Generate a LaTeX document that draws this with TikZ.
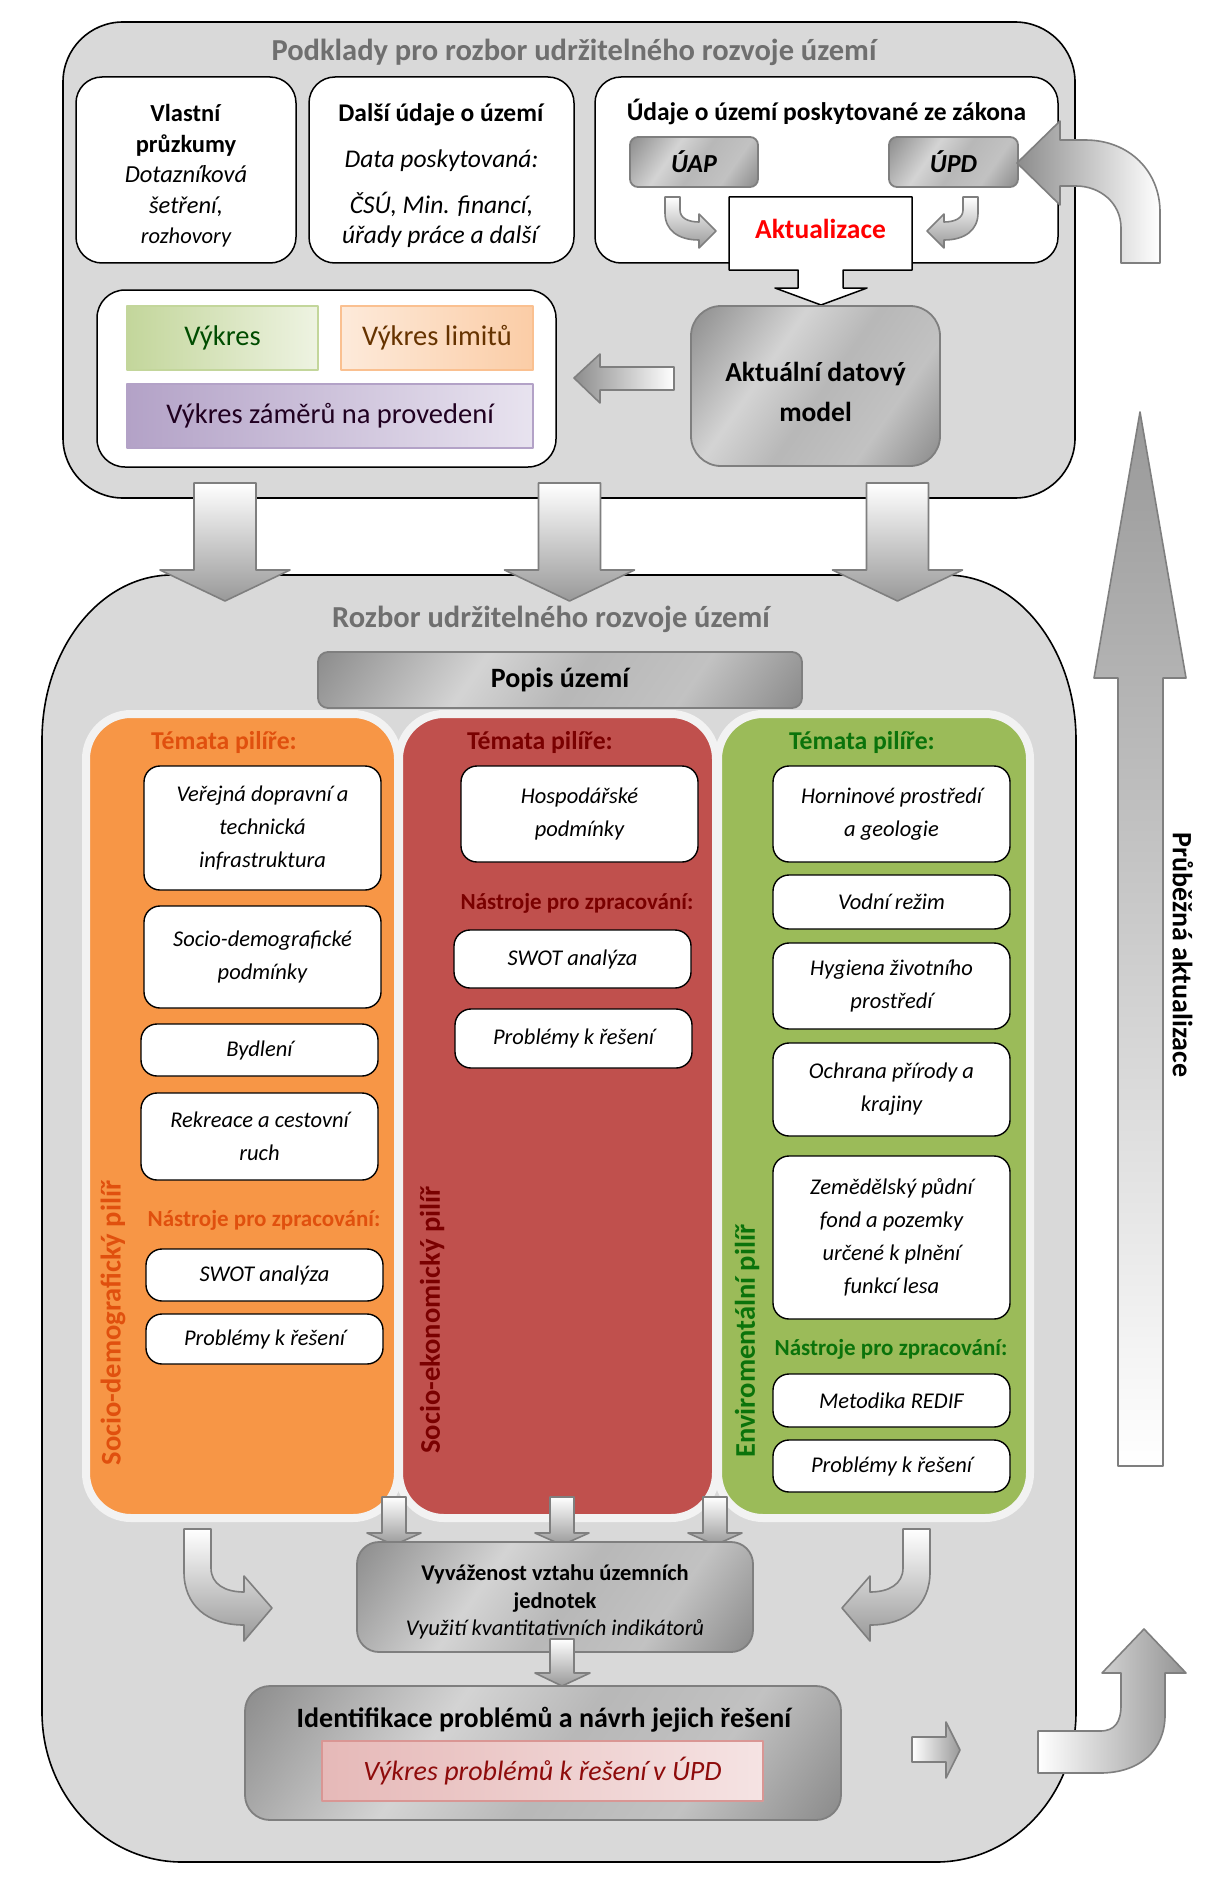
\documentclass[tikz,border=0pt]{standalone}
\usepackage{fontspec}
\setmainfont{Carlito}

\definecolor{mapGray}{HTML}{D9D9D9}
\definecolor{mapLine}{HTML}{7F7F7F}
\definecolor{mapRim}{HTML}{F2F2F2}
\definecolor{mapOrange}{HTML}{F79646}
\definecolor{mapRed}{HTML}{C0504D}
\definecolor{mapGreen}{HTML}{9BBB59}
\definecolor{txtTitle}{HTML}{6F6F6F}
\definecolor{txtOrange}{HTML}{E0500E}
\definecolor{txtRed}{HTML}{7A0000}
\definecolor{txtGreen}{HTML}{0B730B}
\definecolor{txtPink}{HTML}{8E0B0B}
\definecolor{greenA}{HTML}{C3D69B}
\definecolor{greenB}{HTML}{EEF3E2}
\definecolor{orangeA}{HTML}{FAC090}
\definecolor{orangeB}{HTML}{FDEADA}
\definecolor{purpleA}{HTML}{B3A2C7}
\definecolor{purpleB}{HTML}{E8E3EF}
\definecolor{pinkA}{HTML}{E6B9B8}
\definecolor{pinkB}{HTML}{F5E3E3}
\definecolor{pinkLine}{HTML}{D99694}

\pgfdeclarehorizontalshading{metal}{100bp}{color(0bp)=(black!64); color(38bp)=(black!17); color(52bp)=(black!28); color(68bp)=(black!24); color(100bp)=(black!66)}

\tikzset{
  panel/.style={draw=black, line width=1.6pt, fill=mapGray},
  srcbox/.style={draw=black, line width=1.5pt, fill=white, rounded corners=26pt, inner sep=0pt, align=center},
  metalbox/.style={draw=mapLine, line width=1.8pt, shading=metal, shading angle=-35, inner sep=0pt, align=center},
  blockarrow/.style={draw=mapLine, line width=1.6pt, top color=white, bottom color=black!40},
  layerbox/.style={line width=1.5pt, inner sep=0pt, font=\fontsize{28.5}{32}\selectfont},
  pillar/.style={draw=mapRim, line width=8pt, rounded corners=45pt},
  topicbox/.style={draw=black, line width=1.4pt, fill=white, rounded corners=16pt, inner sep=0pt, align=center,
    minimum width=237pt, font=\fontsize{22.5}{33}\selectfont\itshape},
  pillartitle/.style={font=\fontsize{25.7}{29}\selectfont\bfseries},
  tooltitle/.style={font=\fontsize{23}{27}\selectfont\bfseries},
  pillarlabel/.style={rotate=90, font=\fontsize{28.5}{32}\selectfont\bfseries},
  paneltitle/.style={font=\fontsize{30.5}{34}\selectfont\bfseries, text=txtTitle}
}

\begin{document}
\begin{tikzpicture}[x=1pt,y=-1pt,line join=round]
  \useasboundingbox[fill=white] (0,0) rectangle (1224,1894);

  % Průběžná aktualizace
  \draw[blockarrow, top color=black!40, bottom color=white] (1118,1466) -- (1118,678) -- (1094,678) -- (1140,412)
    -- (1186,678) -- (1163,678) -- (1163,1466) -- cycle;
  \node[rotate=-90, font=\fontsize{28}{32}\selectfont\bfseries] (prubezna) at (1183,955) {Průběžná aktualizace};

  % Podklady
  \draw[panel, rounded corners=60pt] (63,22) rectangle (1075,498);
  \node[paneltitle] (podklady) at (574,52) {Podklady pro rozbor udržitelného rozvoje území};

  \node[srcbox, minimum width=220pt, minimum height=186pt] (vlastni) at (186,170) {};
  \node[align=center, font=\fontsize{24.5}{30.5}\selectfont] (vlastnitext) at (186,176)
    {\textbf{Vlastní}\\\textbf{průzkumy}\\\textit{Dotazníková}\\\textit{šetření,}\\{\fontsize{22.5}{29}\selectfont\itshape rozhovory}};
  \node[srcbox, minimum width=265pt, minimum height=186pt] (dalsi) at (441.5,170) {};
  \node[align=center, font=\fontsize{25.5}{29}\selectfont] (dalsitext) at (441.5,176)
    {\textbf{Další údaje o území}\\[17pt]\textit{Data poskytovaná:}\\[17pt]\textit{ČSÚ, Min. financí,}\\[1pt]\textit{úřady práce a další}};
  \node[srcbox, minimum width=463pt, minimum height=186pt] (zakon) at (826.5,170) {};
  \node[font=\fontsize{25.5}{29}\selectfont\bfseries] (zakontitle) at (826.5,112) {Údaje o území poskytované ze zákona};

  \node[metalbox, rounded corners=8pt, minimum width=128pt, minimum height=50pt,
    font=\fontsize{26}{30}\selectfont\bfseries\itshape] (uap) at (694,162) {ÚAP};
  \node[metalbox, rounded corners=8pt, minimum width=129pt, minimum height=50pt,
    font=\fontsize{26}{30}\selectfont\bfseries\itshape] (upd) at (953.5,162) {ÚPD};

  % Aktualizace
  \draw[fill=white, line width=1.5pt] (729,197) -- (912,197) -- (912,270) -- (843,270) -- (843,288) -- (867,288)
    -- (821,305) -- (775,288) -- (798,288) -- (798,270) -- (729,270) -- cycle;
  \node[text=red, font=\fontsize{27.5}{32}\selectfont\bfseries] (aktual) at (820.5,229) {Aktualizace};

  \draw[blockarrow] (665,197) -- (680,197) -- (680,210) .. controls (680,218) and (688,222) .. (699,222) -- (699,214)
    -- (716,231) -- (699,248) -- (699,240) .. controls (678,240) and (665,230) .. (665,213) -- cycle;
  \draw[blockarrow] (978,197) -- (963,197) -- (963,210) .. controls (963,218) and (955,222) .. (944,222) -- (944,214)
    -- (927,231) -- (944,248) -- (944,240) .. controls (965,240) and (978,230) .. (978,213) -- cycle;

  \draw[blockarrow, left color=black!45, right color=white] (1121,263) -- (1121,228) .. controls (1121,203) and (1100,186) .. (1076,186)
    -- (1060,186) -- (1060,205) -- (1017,163) -- (1060,121) -- (1060,140) -- (1085,140)
    .. controls (1130,140) and (1160,172) .. (1160,212) -- (1160,263) -- cycle;

  % Výkresy
  \node[srcbox, rounded corners=28pt, minimum width=459pt, minimum height=177pt] (vykresy) at (326.5,378.5) {};
  \node[layerbox, draw=greenA, left color=greenA, right color=greenB, text=green!30!black,
    minimum width=191pt, minimum height=64pt] (vykres) at (222.5,338) {Výkres};
  \node[layerbox, draw=orangeA, left color=orangeB, right color=orangeA!80, text=orange!40!black,
    minimum width=192pt, minimum height=64pt] (limity) at (437,338) {Výkres limitů};
  \node[layerbox, draw=purpleA, left color=purpleA, right color=purpleB, text=violet!25!black,
    minimum width=406pt, minimum height=64pt] (zamery) at (330,416) {Výkres záměrů na provedení};

  \draw[blockarrow, left color=black!45, right color=white] (674,367) -- (674,390) -- (600,390) -- (600,403)
    -- (574,378) -- (600,354) -- (600,367) -- cycle;

  \node[metalbox, rounded corners=30pt, minimum width=249pt, minimum height=160pt] (model) at (815.5,386) {};
  \node[align=center, font=\fontsize{27.5}{40}\selectfont\bfseries] (modeltext) at (815.5,392) {Aktuální datový\\model};

  % Rozbor
  \draw[panel] (172,575) -- (946,575) arc[start angle=90, end angle=0, x radius=130pt, y radius=165pt]
    -- (1076,1712) arc[start angle=0, end angle=-90, x radius=140pt, y radius=150pt]
    -- (182,1862) arc[start angle=270, end angle=180, x radius=140pt, y radius=150pt]
    -- (42,740) arc[start angle=180, end angle=90, x radius=130pt, y radius=165pt] -- cycle;
  \node[paneltitle] (rozbor) at (551,619) {Rozbor udržitelného rozvoje území};

  \foreach \cx in {225,569.5,897.5}
    \draw[blockarrow] (\cx-31,483) -- (\cx+31,483) -- (\cx+31,570) -- (\cx+65,570) -- (\cx,601)
      -- (\cx-65,570) -- (\cx-31,570) -- cycle;

  \node[metalbox, rounded corners=10pt, minimum width=484pt, minimum height=56pt,
    font=\fontsize{28}{32}\selectfont\bfseries] (popis) at (560,680) {Popis území};

  % Pilíře
  \draw[pillar, fill=mapOrange] (86,714) rectangle (398,1518);
  \draw[pillar, fill=mapRed] (399,714) rectangle (716,1518);
  \draw[pillar, fill=mapGreen] (718,714) rectangle (1030,1518);

  % socio-demografický
  \node[pillartitle, text=txtOrange] (temaO) at (224,742) {Témata pilíře:};
  \node[topicbox, minimum height=124pt] (doprava) at (262.5,828) {Veřejná dopravní a\\technická\\infrastruktura};
  \node[topicbox, minimum height=102pt] (demog) at (262.5,957) {Socio-demografické\\podmínky};
  \node[topicbox, minimum height=52pt] (bydleni) at (259.5,1050) {Bydlení};
  \node[topicbox, minimum height=87pt] (rekreace) at (259.5,1136.5) {Rekreace a cestovní\\ruch};
  \node[tooltitle, text=txtOrange] (nastrojeO) at (264,1220) {Nástroje pro zpracování:};
  \node[topicbox, minimum height=52pt] (swotO) at (264.5,1275) {SWOT analýza};
  \node[topicbox, minimum height=50pt] (problemyO) at (264.5,1339) {Problémy k řešení};
  \node[pillarlabel, text=txtOrange] (pilirO) at (113,1323) {Socio-demografický pilíř};

  % socio-ekonomický
  \node[pillartitle, text=txtRed] (temaR) at (540,742) {Témata pilíře:};
  \node[topicbox, minimum height=96pt] (hosp) at (579.5,814) {Hospodářské\\podmínky};
  \node[tooltitle, text=txtRed] (nastrojeR) at (577,903) {Nástroje pro zpracování:};
  \node[topicbox, minimum height=58pt] (swotR) at (572.5,959) {SWOT analýza};
  \node[topicbox, minimum height=59pt] (problemyR) at (573.5,1038.5) {Problémy k řešení};
  \node[pillarlabel, text=txtRed] (pilirR) at (432,1320) {Socio-ekonomický pilíř};

  % enviromentální
  \node[pillartitle, text=txtGreen] (temaG) at (862,742) {Témata pilíře:};
  \node[topicbox, minimum height=96pt] (horn) at (891.5,814) {Horninové prostředí\\a geologie};
  \node[topicbox, minimum height=54pt] (voda) at (891.5,902) {Vodní režim};
  \node[topicbox, minimum height=86pt] (hyg) at (891.5,986) {Hygiena životního\\prostředí};
  \node[topicbox, minimum height=93pt] (ochrana) at (891.5,1089.5) {Ochrana přírody a\\krajiny};
  \node[topicbox, minimum height=163pt] (zpf) at (891.5,1237.5) {Zemědělský půdní\\fond a pozemky\\určené k plnění\\funkcí lesa};
  \node[tooltitle, text=txtGreen] (nastrojeG) at (891,1349) {Nástroje pro zpracování:};
  \node[topicbox, minimum height=53pt] (redif) at (891.5,1400.5) {Metodika REDIF};
  \node[topicbox, minimum height=52pt] (problemyG) at (891.5,1466) {Problémy k řešení};
  \node[pillarlabel, text=txtGreen] (pilirG) at (747,1341) {Enviromentální pilíř};

  % Vyváženost a identifikace
  \foreach \cx in {394,562,715}
    \draw[blockarrow] (\cx-12,1497) -- (\cx+12,1497) -- (\cx+12,1533) -- (\cx+27,1533) -- (\cx,1545)
      -- (\cx-27,1533) -- (\cx-12,1533) -- cycle;

  \draw[blockarrow] (184,1529) -- (211,1529) -- (211,1568) .. controls (211,1584) and (225,1592) .. (244,1592)
    -- (244,1576) -- (272,1608) -- (244,1641) -- (244,1625) .. controls (207,1625) and (184,1605) .. (184,1572) -- cycle;
  \draw[blockarrow] (930,1529) -- (903,1529) -- (903,1568) .. controls (903,1584) and (889,1592) .. (870,1592)
    -- (870,1576) -- (842,1608) -- (870,1641) -- (870,1625) .. controls (907,1625) and (930,1605) .. (930,1572) -- cycle;

  \node[metalbox, rounded corners=22pt, minimum width=396pt, minimum height=110pt] (vyvazenost) at (555,1597) {};
  \node[align=center, font=\fontsize{22.5}{27.5}\selectfont] (vyvazenosttext) at (555,1602)
    {\textbf{Vyváženost vztahu územních}\\\textbf{jednotek}\\\textit{Využití kvantitativních indikátorů}};

  \draw[blockarrow] (550,1639) -- (574,1639) -- (574,1673) -- (590,1673) -- (562,1686) -- (535,1673) -- (550,1673) -- cycle;

  \node[metalbox, rounded corners=25pt, minimum width=596pt, minimum height=134pt] (ident) at (543,1753) {};
  \node[font=\fontsize{28}{32}\selectfont\bfseries] (identtitle) at (544,1720) {Identifikace problémů a návrh jejich řešení};
  \node[draw=pinkLine, line width=1.8pt, left color=pinkA, right color=pinkB, text=txtPink, inner sep=0pt,
    minimum width=441pt, minimum height=60pt, font=\fontsize{28}{32}\selectfont\itshape] (vykresprob) at (542.5,1771)
    {Výkres problémů k řešení v ÚPD};

  \draw[blockarrow, left color=white, right color=black!40] (912,1737) -- (946,1737) -- (946,1722) -- (960,1750)
    -- (946,1778) -- (946,1762) -- (912,1762) -- cycle;

  \draw[blockarrow, left color=white, right color=black!42] (1038,1731) -- (1100,1731) .. controls (1115,1731) and (1121,1722) .. (1121,1705)
    -- (1121,1673) -- (1102,1673) -- (1144,1629) -- (1186,1673) -- (1165,1673) -- (1165,1715)
    .. controls (1165,1750) and (1140,1773) .. (1100,1773) -- (1038,1773) -- cycle;
\end{tikzpicture}
\end{document}
